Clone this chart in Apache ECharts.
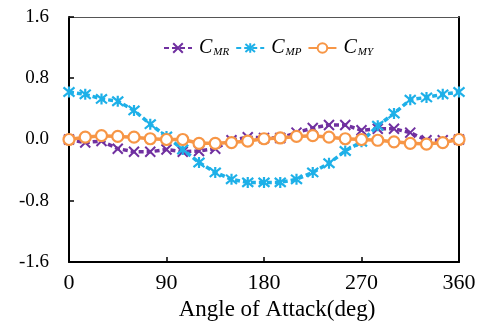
<!DOCTYPE html>
<html><head><meta charset="utf-8">
<script src="https://cdn.jsdelivr.net/npm/echarts@6/dist/echarts.min.js"></script>
<style>html,body{margin:0;padding:0;background:#fff}#c{width:486px;height:327px}</style>
</head><body><div id="c"></div>
<script>
const angles = [0,15,30,45,60,75,90,105,120,135,150,165,180,195,210,225,240,255,270,285,300,315,330,345,360];
const cMR = [0.00,-0.04,-0.02,-0.12,-0.16,-0.16,-0.13,-0.16,-0.15,-0.12,-0.01,0.03,0.02,0.02,0.09,0.15,0.19,0.19,0.12,0.14,0.14,0.09,-0.01,-0.01,0.00];
const cMP = [0.62,0.59,0.53,0.50,0.38,0.20,0.04,-0.13,-0.30,-0.43,-0.52,-0.56,-0.56,-0.56,-0.52,-0.43,-0.31,-0.15,-0.03,0.18,0.34,0.52,0.55,0.59,0.62];
const cMY = [0.00,0.03,0.05,0.04,0.03,0.01,0.00,0.00,-0.05,-0.05,-0.04,-0.02,0.01,0.02,0.04,0.05,0.03,0.01,0.00,-0.01,-0.03,-0.05,-0.06,-0.04,0.00];
const seriesNames = ['CMR','CMP','CMY'];
const xTicks = [0,90,180,270,360];
const yTicks = [-1.6,-0.8,0,0.8,1.6];

const FONT = '"Liberation Serif","Times New Roman",serif';
const pair = a => angles.map((x,i)=>[x,a[i]]);
const crossPath = 'path://M0,0L10,10M10,0L0,10';
const starPath = 'path://M0,0L10,10M10,0L0,10M5,-1L5,11';
const chart = echarts.init(document.getElementById('c'));
chart.setOption({
  animation:false,
  grid:{left:69,right:27,top:17,bottom:65,outerBoundsMode:'none',containLabel:false},
  legend:{
    top:33,left:158,itemGap:6,itemWidth:28,itemHeight:12,
    data:seriesNames,
    formatter:n=>'{c|C}{s|'+n.slice(1)+'}',
    textStyle:{rich:{
      c:{fontFamily:FONT,fontStyle:'italic',fontSize:20,color:'#000',padding:[0,0,0,2]},
      s:{fontFamily:FONT,fontStyle:'italic',fontSize:11,color:'#000',padding:[9,0,0,1]}
    }}
  },
  xAxis:[{
    type:'value',min:0,max:360,interval:90,
    axisLine:{onZero:false,lineStyle:{color:'#000',width:2}},
    axisTick:{inside:true,length:5,lineStyle:{color:'#000',width:1.5}},
    axisLabel:{margin:10,fontFamily:FONT,fontSize:22,color:'#000',customValues:xTicks},
    splitLine:{show:false},
    name:'Angle of Attack(deg)',nameLocation:'middle',nameGap:33,
    nameTextStyle:{fontFamily:FONT,fontSize:23,color:'#000',padding:[0,0,0,26]}
  },{
    type:'value',min:0,max:360,position:'top',
    axisLine:{show:true,onZero:false,lineStyle:{color:'#555',width:1}},
    axisTick:{show:false},axisLabel:{show:false},splitLine:{show:false}
  }],
  yAxis:[{
    type:'value',min:-1.6,max:1.6,interval:0.8,
    axisLine:{show:true,onZero:false,lineStyle:{color:'#000',width:2}},
    axisTick:{show:true,inside:true,length:5,lineStyle:{color:'#000',width:1.5}},
    axisLabel:{margin:20,fontFamily:FONT,fontSize:19,color:'#000',formatter:v=>v.toFixed(1)},
    splitLine:{show:false}
  },{
    type:'value',min:-1.6,max:1.6,position:'right',
    axisLine:{show:true,onZero:false,lineStyle:{color:'#000',width:2}},
    axisTick:{show:false},axisLabel:{show:false},splitLine:{show:false}
  }],
  series:[
    {name:'CMR',type:'line',data:pair(cMR),symbol:crossPath,symbolSize:10,
     lineStyle:{color:'#7030A0',width:3.5,type:[5,3]},
     itemStyle:{color:'#7030A0',borderColor:'#7030A0',borderWidth:2},z:2},
    {name:'CMP',type:'line',data:pair(cMP),symbol:starPath,symbolSize:11,
     lineStyle:{color:'#1EB0E8',width:3.5,type:[5,3]},
     itemStyle:{color:'#1EB0E8',borderColor:'#1EB0E8',borderWidth:2.2},z:3},
    {name:'CMY',type:'line',data:pair(cMY),symbol:'circle',symbolSize:11,showAllSymbol:true,
     lineStyle:{color:'#F79646',width:3.5},
     itemStyle:{color:'#fff',borderColor:'#F79646',borderWidth:2.2},z:4}
  ]
});
</script></body></html>
